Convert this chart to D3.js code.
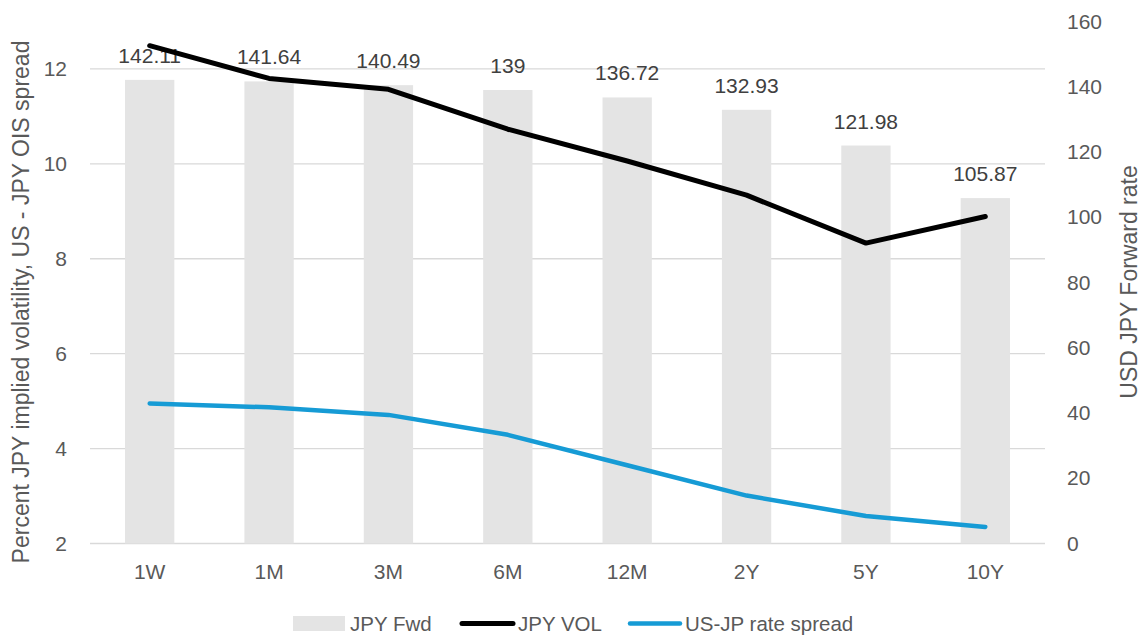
<!DOCTYPE html>
<html>
<head>
<meta charset="utf-8">
<script src="https://cdn.jsdelivr.net/npm/d3@7"></script>
<style>
  html, body { margin: 0; padding: 0; background: #fff; }
  svg { display: block; font-family: "Liberation Sans", Arial, sans-serif; }
</style>
</head>
<body>
<svg id="chart" width="1142" height="635"></svg>
<script>
const categories = ["1W", "1M", "3M", "6M", "12M", "2Y", "5Y", "10Y"];
const jpyFwd = [142.11, 141.64, 140.49, 139, 136.72, 132.93, 121.98, 105.87];
const jpyFwdLabels = ["142.11", "141.64", "140.49", "139", "136.72", "132.93", "121.98", "105.87"];
const jpyVol = [12.49, 11.80, 11.57, 10.73, 10.06, 9.34, 8.33, 8.89];
const usJpSpread = [4.95, 4.87, 4.71, 4.29, 3.65, 3.01, 2.58, 2.35];
const leftTicks = [2, 4, 6, 8, 10, 12];
const rightTicks = [0, 20, 40, 60, 80, 100, 120, 140, 160];
const seriesNames = ["JPY Fwd", "JPY VOL", "US-JP rate spread"];

const svg = d3.select("#chart");
const plot = { left: 90, right: 1045, top: 21.5, bottom: 543.5 };

const x = d3.scaleBand().domain(categories).range([plot.left, plot.right])
  .paddingInner(0.587).paddingOuter(0.2935);
const yL = d3.scaleLinear().domain([2, 13]).range([plot.bottom, plot.top]);
const yR = d3.scaleLinear().domain([0, 160]).range([plot.bottom, plot.top]);
const cx = d => x(d) + x.bandwidth() / 2;

const textColor = "#595959";
const fontFam = "Liberation Sans, Arial, sans-serif";

// gridlines
svg.append("g").selectAll("line").data(leftTicks).join("line")
  .attr("x1", plot.left).attr("x2", plot.right)
  .attr("y1", d => yL(d)).attr("y2", d => yL(d))
  .attr("stroke", "#d9d9d9").attr("stroke-width", 1.3);

// bars
svg.append("g").selectAll("rect").data(categories).join("rect")
  .attr("x", d => x(d)).attr("width", x.bandwidth())
  .attr("y", (d, i) => yR(jpyFwd[i]))
  .attr("height", (d, i) => plot.bottom - yR(jpyFwd[i]))
  .attr("fill", "#e4e4e4");

// data labels
svg.append("g").selectAll("text").data(categories).join("text")
  .attr("x", d => cx(d))
  .attr("y", (d, i) => yR(jpyFwd[i]) - 17)
  .attr("text-anchor", "middle")
  .attr("font-size", 21).attr("fill", "#404040")
  .text((d, i) => jpyFwdLabels[i]);

// lines
const lineGen = d3.line().x(d => cx(d[0])).y(d => yL(d[1]));
svg.append("path")
  .datum(categories.map((c, i) => [c, usJpSpread[i]]))
  .attr("d", lineGen).attr("fill", "none")
  .attr("stroke", "#169bd5").attr("stroke-width", 4.5)
  .attr("stroke-linejoin", "round").attr("stroke-linecap", "round");
svg.append("path")
  .datum(categories.map((c, i) => [c, jpyVol[i]]))
  .attr("d", lineGen).attr("fill", "none")
  .attr("stroke", "#000").attr("stroke-width", 5)
  .attr("stroke-linejoin", "round").attr("stroke-linecap", "round");

// left axis
const gL = svg.append("g").attr("transform", `translate(${plot.left - 23},0)`)
  .call(d3.axisLeft(yL).tickValues(leftTicks).tickSize(0).tickPadding(0).tickFormat(d3.format("d")));
gL.select(".domain").remove();
gL.selectAll("text").attr("font-size", 21).attr("fill", textColor).attr("font-family", fontFam);

// right axis
const gR = svg.append("g").attr("transform", `translate(${plot.right + 22},0)`)
  .call(d3.axisRight(yR).tickValues(rightTicks).tickSize(0).tickPadding(0).tickFormat(d3.format("d")));
gR.select(".domain").remove();
gR.selectAll("text").attr("font-size", 21).attr("fill", textColor).attr("font-family", fontFam);

// bottom axis
const gB = svg.append("g").attr("transform", `translate(0,${plot.bottom})`)
  .call(d3.axisBottom(x).tickSize(0).tickPadding(21));
gB.select(".domain").remove();
gB.selectAll("text").attr("font-size", 21).attr("fill", textColor).attr("font-family", fontFam);

// axis titles
svg.append("text")
  .attr("transform", "translate(29,302) rotate(-90)")
  .attr("text-anchor", "middle").attr("font-size", 23).attr("fill", textColor)
  .text("Percent JPY implied volatility, US - JPY OIS spread");
svg.append("text")
  .attr("transform", "translate(1137,282) rotate(-90)")
  .attr("text-anchor", "middle").attr("font-size", 23).attr("fill", textColor)
  .text("USD JPY Forward rate");

// legend
const leg = svg.append("g").attr("font-size", 20.5).attr("fill", textColor);
leg.append("rect").attr("x", 293).attr("y", 616).attr("width", 52).attr("height", 15).attr("fill", "#e4e4e4");
leg.append("text").attr("x", 350).attr("y", 631).text(seriesNames[0]);
leg.append("line").attr("x1", 462).attr("x2", 513).attr("y1", 623.5).attr("y2", 623.5)
  .attr("stroke", "#000").attr("stroke-width", 5).attr("stroke-linecap", "round");
leg.append("text").attr("x", 518).attr("y", 631).text(seriesNames[1]);
leg.append("line").attr("x1", 630).attr("x2", 680).attr("y1", 623.5).attr("y2", 623.5)
  .attr("stroke", "#169bd5").attr("stroke-width", 4.5).attr("stroke-linecap", "round");
leg.append("text").attr("x", 685).attr("y", 631).text(seriesNames[2]);
</script>
</body>
</html>
